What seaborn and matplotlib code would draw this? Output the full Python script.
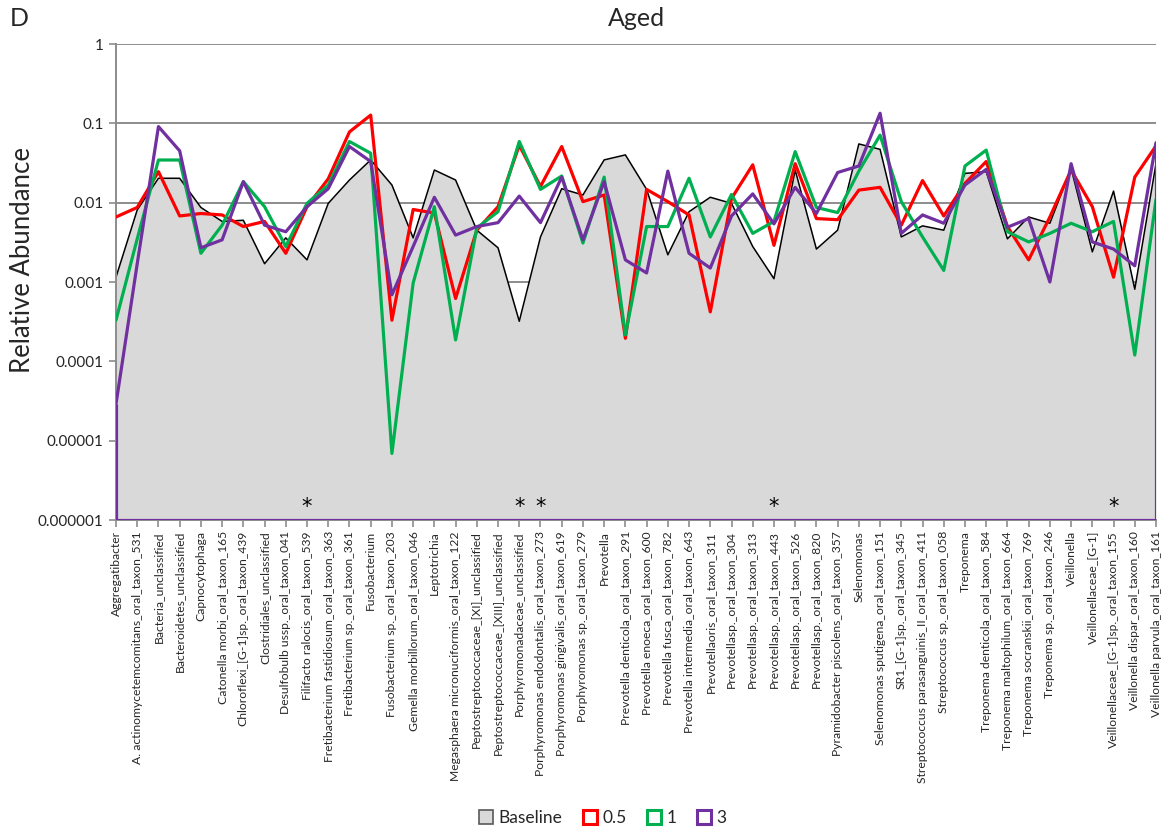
import numpy as np
import pandas as pd
import matplotlib
matplotlib.use("Agg")
import matplotlib.pyplot as plt
from matplotlib.patches import Patch
from matplotlib.ticker import FixedLocator, NullLocator
import seaborn as sns

# Taxa shown on the x axis
taxa = [
    "Aggregatibacter",
    "A. actinomycetemcomitans_oral_taxon_531",
    "Bacteria_unclassified",
    "Bacteroidetes_unclassified",
    "Capnocytophaga",
    "Catonella morbi_oral_taxon_165",
    "Chloroflexi_[G-1]sp._oral_taxon_439",
    "Clostridiales_unclassified",
    "Desulfobulb ussp._oral_taxon_041",
    "Filifacto ralocis_oral_taxon_539",
    "Fretibacterium fastidiosum_oral_taxon_363",
    "Fretibacterium sp._oral_taxon_361",
    "Fusobacterium",
    "Fusobacterium sp._oral_taxon_203",
    "Gemella morbillorum_oral_taxon_046",
    "Leptotrichia",
    "Megasphaera micronuciformis_oral_taxon_122",
    "Peptostreptococcaceae_[XI]_unclassified",
    "Peptostreptococcaceae_[XIII]_unclassified",
    "Porphyromonadaceae_unclassified",
    "Porphyromonas endodontalis_oral_taxon_273",
    "Porphyromonas gingivalis_oral_taxon_619",
    "Porphyromonas sp._oral_taxon_279",
    "Prevotella",
    "Prevotella denticola_oral_taxon_291",
    "Prevotella enoeca_oral_taxon_600",
    "Prevotella fusca_oral_taxon_782",
    "Prevotella intermedia_oral_taxon_643",
    "Prevotellaoris_oral_taxon_311",
    "Prevotellasp._oral_taxon_304",
    "Prevotellasp._oral_taxon_313",
    "Prevotellasp._oral_taxon_443",
    "Prevotellasp._oral_taxon_526",
    "Prevotellasp._oral_taxon_820",
    "Pyramidobacter piscolens_oral_taxon_357",
    "Selenomonas",
    "Selenomonas sputigena_oral_taxon_151",
    "SR1_[G-1]sp._oral_taxon_345",
    "Streptococcus parasanguinis_II_oral_taxon_411",
    "Streptococcus sp._oral_taxon_058",
    "Treponema",
    "Treponema denticola_oral_taxon_584",
    "Treponema maltophilum_oral_taxon_664",
    "Treponema socranskii_oral_taxon_769",
    "Treponema sp._oral_taxon_246",
    "Veillonella",
    "Veillonellaceae_[G-1]",
    "Veillonellaceae_[G-1]sp._oral_taxon_155",
    "Veillonella dispar_oral_taxon_160",
    "Veillonella parvula_oral_taxon_161",
]

# Relative abundance per group
baseline = [
    0.00115, 0.0081, 0.0203, 0.0203, 0.0087, 0.0058, 0.006, 0.0017, 0.0036, 0.0019,
    0.0098, 0.0193, 0.0346, 0.0167, 0.0036, 0.0258, 0.0193, 0.0045, 0.0027, 0.00032,
    0.0037, 0.015, 0.0125, 0.0346, 0.040, 0.0147, 0.0022, 0.0077, 0.0117, 0.0098,
    0.0028, 0.0011, 0.0258, 0.0026, 0.0045, 0.055, 0.047, 0.0037, 0.0051, 0.0045,
    0.0234, 0.0246, 0.0035, 0.0066, 0.0055, 0.027, 0.0024, 0.014, 0.00081, 0.031,
]
dose_05 = [
    0.0066, 0.0087, 0.0246, 0.0068, 0.0073, 0.007, 0.005, 0.0058, 0.0023, 0.0089,
    0.020, 0.078, 0.127, 0.00033, 0.0082, 0.0074, 0.00062, 0.0045, 0.0089, 0.053,
    0.016, 0.051, 0.0103, 0.0125, 0.000195, 0.0147, 0.0103, 0.007, 0.00042, 0.0113,
    0.030, 0.0029, 0.031, 0.0063, 0.0061, 0.0144, 0.0156, 0.0052, 0.019, 0.0068,
    0.0175, 0.033, 0.005, 0.0019, 0.0066, 0.0258, 0.0089, 0.00115, 0.021, 0.052,
]
dose_1 = [
    0.00033, 0.0035, 0.0345, 0.0345, 0.0023, 0.0052, 0.0184, 0.0089, 0.0028, 0.0098,
    0.0167, 0.059, 0.042, 0.0000069, 0.00097, 0.0089, 0.000186, 0.0048, 0.0077, 0.059,
    0.0147, 0.0217, 0.0031, 0.021, 0.000215, 0.005, 0.005, 0.0203, 0.0037, 0.0127,
    0.0041, 0.0058, 0.044, 0.0087, 0.0075, 0.025, 0.071, 0.0103, 0.0037, 0.0014,
    0.029, 0.046, 0.0043, 0.0032, 0.0041, 0.0055, 0.0043, 0.0058, 0.00012, 0.011,
]
dose_3 = [
    0.000029, 0.0017, 0.091, 0.045, 0.0027, 0.0034, 0.0184, 0.0052, 0.0043, 0.0089,
    0.015, 0.051, 0.033, 0.00069, 0.0028, 0.0117, 0.0039, 0.005, 0.0056, 0.0121,
    0.0056, 0.021, 0.0034, 0.0184, 0.0019, 0.0013, 0.025, 0.0023, 0.0015, 0.0068,
    0.0129, 0.0054, 0.0156, 0.0073, 0.024, 0.029, 0.134, 0.0041, 0.007, 0.0055,
    0.0167, 0.0263, 0.0049, 0.0063, 0.001, 0.031, 0.0032, 0.0026, 0.0016, 0.057,
]

# Taxa flagged as significant
starred = [
    "Filifacto ralocis_oral_taxon_539",
    "Porphyromonadaceae_unclassified",
    "Porphyromonas endodontalis_oral_taxon_273",
    "Prevotellasp._oral_taxon_443",
    "Veillonellaceae_[G-1]sp._oral_taxon_155",
]

y_ticks = [1, 0.1, 0.01, 0.001, 0.0001, 0.00001, 0.000001]
y_tick_labels = ["1", "0.1", "0.01", "0.001", "0.0001", "0.00001", "0.000001"]

series_names = ["0.5", "1", "3"]
colors = {"Baseline": "#D9D9D9", "0.5": "#FF0000", "1": "#00B050", "3": "#7030A0"}

sns.set_theme(style="white")
plt.rcParams["font.family"] = ["Lato", "DejaVu Sans"]

pos = np.arange(len(taxa))
long_df = pd.concat(
    [
        pd.DataFrame({"pos": pos, "value": vals, "group": name})
        for name, vals in zip(series_names, [dose_05, dose_1, dose_3])
    ],
    ignore_index=True,
)

fig = plt.figure(figsize=(11.62, 8.32), dpi=100)
ax = fig.add_axes([116 / 1162, 1 - 520 / 832, (1156 - 116) / 1162, (520 - 44) / 832])
ax.set_yscale("log")
floor = y_ticks[-1]

# Baseline as a shaded area with a thin dark outline
ax.fill_between(pos, floor, baseline, color=colors["Baseline"], linewidth=0, zorder=1)
ax.plot(pos, baseline, color="black", linewidth=1.1, zorder=2)

sns.lineplot(
    data=long_df, x="pos", y="value", hue="group", hue_order=series_names,
    palette=[colors[n] for n in series_names], linewidth=2.3, sort=False,
    legend=False, ax=ax, zorder=3,
)
# Outline closing the highest-dose series down to the floor
ax.vlines([pos[0], pos[-1]], floor, [dose_3[0], dose_3[-1]], color=colors["3"],
          linewidth=2.3, zorder=3)
ax.hlines(floor, pos[0], pos[-1], color=colors["3"], linewidth=2.3, zorder=3)

ax.set_xlim(0, len(taxa) - 1)
ax.set_ylim(floor, 1)

# Decade gridlines behind the shaded area
ax.set_axisbelow(True)
ax.yaxis.set_major_locator(FixedLocator(y_ticks))
ax.yaxis.set_minor_locator(NullLocator())
ax.set_yticklabels(y_tick_labels, fontsize=11)
ax.grid(axis="y", color="#8C8C8C", linewidth=1.4)
ax.grid(axis="x", visible=False)

ax.set_xticks(pos)
ax.set_xticklabels(taxa, rotation=90, fontsize=8.7)
ax.tick_params(axis="both", which="major", direction="out", length=5,
               color="#8C8C8C", width=1.2, pad=3, left=True, bottom=True)
ax.tick_params(axis="y", pad=4)

for side in ["top", "right"]:
    ax.spines[side].set_visible(False)
for side in ["left", "bottom"]:
    ax.spines[side].set_color("#8C8C8C")
    ax.spines[side].set_linewidth(1.4)

ax.set_xlabel("")
ax.set_ylabel("Relative Abundance", fontsize=18.5)
ax.yaxis.set_label_coords(-0.078, 0.546)

# Significance markers
for name in starred:
    i = taxa.index(name)
    ax.text(pos[i], 0.027, "*", transform=ax.get_xaxis_transform(),
            ha="center", va="center", fontsize=15, color="black", zorder=4,
            family="DejaVu Sans")

fig.text(ax.get_position().x0 + ax.get_position().width / 2, 1 - 18 / 832, "Aged",
         ha="center", va="center", fontsize=18)
fig.text(10 / 1162, 1 - 18 / 832, "D", ha="left", va="center", fontsize=18)

handles = [
    Patch(facecolor=colors["Baseline"], edgecolor="#595959", linewidth=1.2, label="Baseline"),
    Patch(facecolor="white", edgecolor=colors["0.5"], linewidth=2.2, label="0.5"),
    Patch(facecolor="white", edgecolor=colors["1"], linewidth=2.2, label="1"),
    Patch(facecolor="white", edgecolor=colors["3"], linewidth=2.2, label="3"),
]
fig.legend(handles=handles, loc="center", bbox_to_anchor=(603 / 1162, 1 - 818 / 832),
           ncol=4, frameon=False, fontsize=12.5, handlelength=0.8, handleheight=0.8,
           handletextpad=0.3, columnspacing=1.2)

fig.savefig("out.png", dpi=100)
